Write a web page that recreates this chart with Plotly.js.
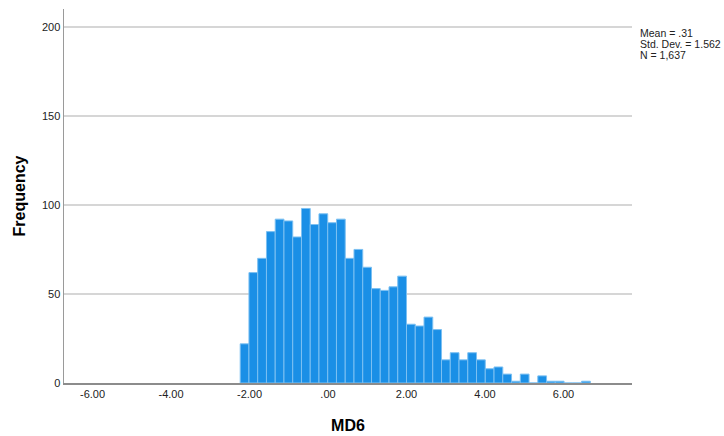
<!DOCTYPE html>
<html>
<head>
<meta charset="utf-8">
<script src="https://cdn.plot.ly/plotly-3.0.1.min.js"></script>
<style>html,body{margin:0;padding:0;background:#fff;}#chart{width:724px;height:436px;}</style>
</head>
<body>
<div id="chart"></div>
<script>
// Histogram of MD6: bin start, bin width and counts per bin
const binStart = -2.237;
const binWidth = 0.223;
const counts = [22,62,70,85,92,91,82,98,89,95,90,92,70,75,65,53,52,54,60,33,32,37,30,13,17,13,17,13,8,9,5,1,5,0,4,1,1,0,0,1];
const xTickVals = [-6,-4,-2,0,2,4,6];
const xTickText = ["-6.00","-4.00","-2.00",".00","2.00","4.00","6.00"];
const yTickVals = [0,50,100,150,200];
const statsLines = ["Mean = .31","Std. Dev. = 1.562","N = 1,637"];

const centers = counts.map((c,i)=> binStart + binWidth*(i+0.5));

const trace = {
  type:'bar',
  x: centers,
  y: counts,
  width: binWidth,
  marker:{color:'#1a8fe6', line:{color:'#7cc0f2', width:1}},
  hoverinfo:'x+y'
};

const statsY = [0.937, 0.906, 0.876];
const annotations = statsLines.map((t,i)=>({
  xref:'paper', yref:'paper', x:1.0105, y:statsY[i], xanchor:'left', yanchor:'middle',
  align:'left', showarrow:false, text:t,
  font:{size:10.5, color:'#222'}
}));

const layout = {
  width:724, height:436,
  margin:{l:64, r:92, t:9, b:53},
  paper_bgcolor:'#fff', plot_bgcolor:'#fff',
  showlegend:false,
  bargap:0,
  font:{family:'"Liberation Sans", Arial, sans-serif', size:11, color:'#222'},
  xaxis:{
    range:[-6.726, 7.745],
    tickvals:xTickVals, ticktext:xTickText,
    ticks:'', showgrid:false, zeroline:false,
    showline:true, linecolor:'#8c8c8c', linewidth:2,
    tickfont:{size:11, color:'#222'},
    title:{text:'MD6', font:{size:16, color:'#000', weight:'bold'}, standoff:21}
  },
  yaxis:{
    range:[0,210],
    tickvals:yTickVals,
    ticks:'', showgrid:true, gridcolor:'#d6d6d6', gridwidth:1.5,
    zeroline:false, showline:true, linecolor:'#9a9a9a', linewidth:1.5,
    tickfont:{size:11, color:'#222'},
    title:{text:'Frequency', font:{size:16, color:'#000', weight:'bold'}, standoff:12}
  },
  annotations: annotations
};

Plotly.newPlot('chart',[trace],layout,{displayModeBar:false, staticPlot:true});
</script>
</body>
</html>
